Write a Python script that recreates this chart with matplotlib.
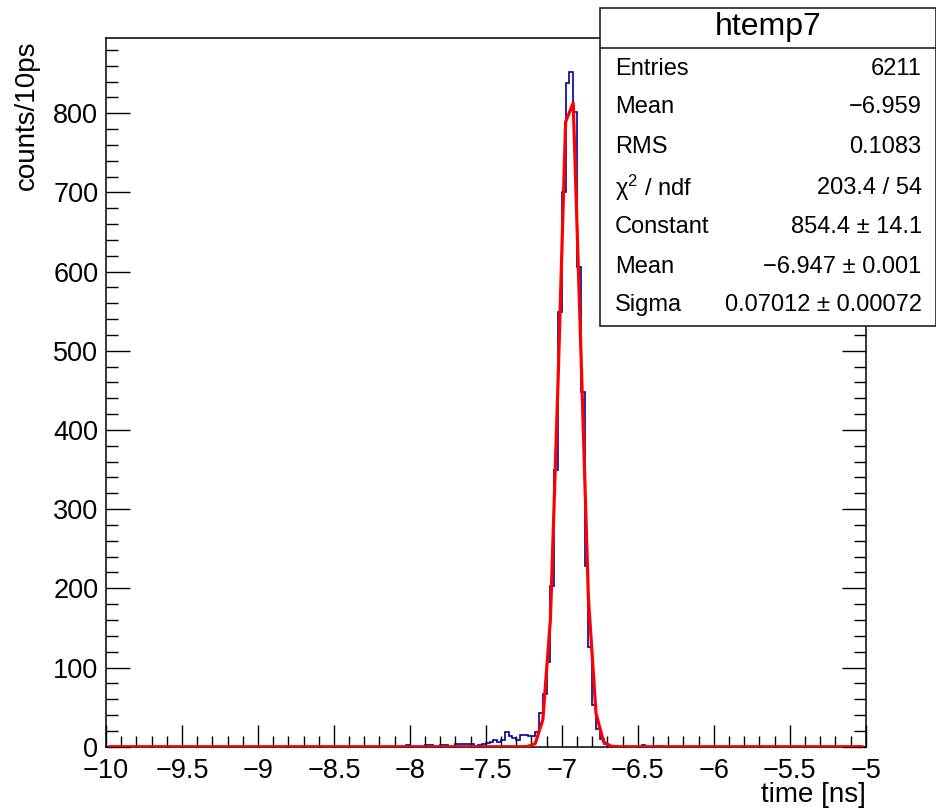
import numpy as np
import matplotlib
matplotlib.use('Agg')
import matplotlib.pyplot as plt
from matplotlib.patches import Rectangle
from matplotlib.lines import Line2D
from matplotlib.ticker import MultipleLocator, FuncFormatter

plt.rcParams['font.family'] = ['Liberation Sans', 'DejaVu Sans']
plt.rcParams['mathtext.fontset'] = 'custom'
plt.rcParams['mathtext.rm'] = 'Liberation Sans'
plt.rcParams['mathtext.it'] = 'Liberation Sans:italic'

# histogram: 25 ps bins over [-10, -5] ns, counts
x_min, x_max, n_bins = -10.0, -5.0, 200
first_edge = -8.025
counts = [2, 0, 0, 0, 0, 2, 2, 0, 0, 2, 2, 0, 0, 3, 3, 3, 3, 4, 0, 2, 3,
          5, 6, 9, 6, 8, 18, 14, 11, 8, 15, 15, 14, 14, 18, 43, 67, 107,
          203, 350, 549, 701, 838, 852, 802, 606, 448, 228, 126, 53, 22,
          10, 3, 1, 1, 0, 0, 0, 0, 0, 0, 0, 2, 0, 0, 0, 1]

# gaussian fit curve as drawn (polyline vertices)
fit_x = [-9.975, -7.275, -7.225, -7.175, -7.125, -7.075, -7.025, -6.975,
         -6.925, -6.875, -6.825, -6.775, -6.725, -6.675, -6.625, -5.025]
fit_y = [0, 0, 0.3, 4, 34, 161, 460, 789, 813, 504, 188, 42, 6, 0.5, 0, 0]

# stats box
stats_title = 'htemp7'
stats_labels = ['Entries', 'Mean', 'RMS', 'χ$^{2}$ / ndf', 'Constant', 'Mean', 'Sigma']
stats_values = ['6211', '\u22126.959', '0.1083', '203.4 / 54', '854.4 ± 14.1',
                '\u22126.947 ± 0.001', '0.07012 ± 0.00072']

W, H = 937, 810


def fx(px):
    return px / W


def fy(py):
    return 1 - py / H


def make_plot():
    fig = plt.figure(figsize=(W / 100, H / 100), dpi=100)
    ax = fig.add_axes([fx(106), fy(746.7), fx(865.7) - fx(106), fy(38.3) - fy(746.7)])

    edges = np.linspace(x_min, x_max, n_bins + 1)
    full = np.zeros(n_bins)
    start = int(round((first_edge - x_min) / 0.025))
    full[start:start + len(counts)] = counts

    ax.stairs(full, edges, color='#000099', lw=1.2, baseline=None, zorder=2)
    ax.plot(fit_x, fit_y, color='#ff0000', lw=2.3, zorder=3, solid_joinstyle='round')

    ax.set_xlim(x_min, x_max)
    ax.set_ylim(0, 894.6)

    ax.xaxis.set_major_locator(MultipleLocator(0.5))
    ax.xaxis.set_minor_locator(MultipleLocator(0.1))
    ax.yaxis.set_major_locator(MultipleLocator(100))
    ax.yaxis.set_minor_locator(MultipleLocator(20))
    fmt = FuncFormatter(lambda v, p: f'{v:g}'.replace('-', '\u2212'))
    ax.xaxis.set_major_formatter(fmt)
    ax.yaxis.set_major_formatter(fmt)

    ax.tick_params(which='both', direction='in', top=False, right=True,
                   labelsize=19.5, width=1.0, color='black')
    ax.tick_params(axis='x', which='major', length=16, pad=8)
    ax.tick_params(axis='x', which='minor', length=8)
    ax.tick_params(axis='y', which='major', length=17, pad=5.5)
    ax.tick_params(axis='y', which='minor', length=8.5)
    for s in ax.spines.values():
        s.set_linewidth(1.1)

    fig.text(fx(865.7), fy(795), 'time [ns]', ha='right', va='center', fontsize=20)
    fig.text(fx(26.7), fy(40), 'counts/10ps', ha='center', va='top',
             rotation=90, fontsize=20)

    # stats box drawn over the frame
    left, right, top, bottom, header = 600, 936.5, 8.3, 326, 47.7
    fig.add_artist(Rectangle((fx(left), fy(bottom)), fx(right) - fx(left),
                             fy(top) - fy(bottom), transform=fig.transFigure,
                             facecolor='white', edgecolor='#222222', lw=1.2, zorder=5))
    fig.add_artist(Line2D([fx(left), fx(right)], [fy(header), fy(header)],
                          transform=fig.transFigure, color='#222222', lw=1.2, zorder=6))
    fig.text(fx((left + right) / 2), fy(27), stats_title, ha='center', va='center',
             fontsize=23, zorder=7)
    row_y = [69, 107, 147, 188, 227, 267, 305]
    for yy, lab, val in zip(row_y, stats_labels, stats_values):
        fig.text(fx(615), fy(yy), lab, ha='left', va='center', fontsize=17, zorder=7)
        fig.text(fx(921.7), fy(yy), val, ha='right', va='center', fontsize=17, zorder=7)

    fig.savefig('out.png', dpi=100)
    plt.close(fig)


if __name__ == "__main__":
    make_plot()
